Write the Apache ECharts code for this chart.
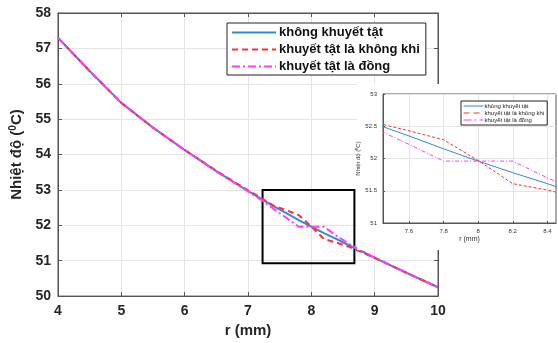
<!DOCTYPE html>
<html>
<head>
<meta charset="utf-8">
<script src="https://cdn.jsdelivr.net/npm/echarts@6/dist/echarts.min.js"></script>
<style>
  html, body { margin: 0; padding: 0; background: #fff; }
  #chart { width: 558px; height: 343px; }
</style>
</head>
<body>
<div id="chart"></div>
<script>
// r (mm) and temperature (°C)
const rValues = [4, 4.5, 5, 5.5, 6, 6.5, 7, 7.2, 7.4, 7.6, 7.8, 8, 8.2, 8.4, 8.6, 8.8, 9, 9.5, 10];
const tNoDefect = [57.30, 56.36, 55.46, 54.76, 54.13, 53.53, 52.97, 52.76, 52.54, 52.35, 52.15, 51.96, 51.78, 51.61, 51.43, 51.26, 51.08, 50.66, 50.25];
const tAirDefect = [57.30, 56.36, 55.46, 54.76, 54.13, 53.54, 52.99, 52.78, 52.56, 52.43, 52.29, 51.97, 51.61, 51.51, 51.39, 51.24, 51.08, 50.66, 50.25];
const tCopperDefect = [57.30, 56.36, 55.46, 54.76, 54.13, 53.52, 52.96, 52.73, 52.47, 52.22, 51.96, 51.96, 51.96, 51.70, 51.47, 51.28, 51.09, 50.66, 50.25];

const seriesNames = ['không khuyết tật', 'khuyết tật là không khi', 'khuyết tật là đồng'];
// zoom rectangle drawn on the main plot
const boxR = [7.23, 8.68];
const boxT = [50.93, 53.0];
// inset axes
const insetR = [7.45, 8.45];
const insetRTicks = [7.6, 7.8, 8, 8.2, 8.4];
const insetT = [51, 53];

const colors = ['#2f8ad8', '#ff3030', '#ff3cff'];
const dashes = ['solid', [6, 4], [8, 3, 2, 3]];
const allT = [tNoDefect, tAirDefect, tCopperDefect];

const font = 'Liberation Sans, Arial, sans-serif';
const axisGray = '#555';
const gridGray = '#e4e4e4';

function pairs(ts) {
  return rValues.map((r, i) => [r, ts[i]]);
}

const series = [];
allT.forEach((ts, i) => {
  series.push({
    name: seriesNames[i],
    type: 'line',
    xAxisIndex: 0,
    yAxisIndex: 0,
    symbol: 'none',
    z: 2,
    data: pairs(ts),
    lineStyle: { color: colors[i], width: 2, type: dashes[i] },
    itemStyle: { color: colors[i] }
  });
});
series[0].markArea = {
  silent: true,
  itemStyle: { color: 'rgba(0,0,0,0)', borderColor: '#000', borderWidth: 2 },
  data: [[{ coord: [boxR[0], boxT[1]] }, { coord: [boxR[1], boxT[0]] }]]
};
allT.forEach((ts, i) => {
  series.push({
    name: seriesNames[i],
    type: 'line',
    xAxisIndex: 2,
    yAxisIndex: 2,
    symbol: 'none',
    z: 12,
    clip: true,
    data: pairs(ts),
    lineStyle: { color: colors[i], width: 1, type: i === 1 ? [3, 2] : (i === 2 ? [4, 2, 1, 2] : 'solid') },
    itemStyle: { color: colors[i] }
  });
});

const chart = echarts.init(document.getElementById('chart'));
chart.setOption({
  animation: false,
  backgroundColor: '#fff',
  graphic: {
    elements: [{
      type: 'rect',
      z: 5,
      left: 357, top: 84,
      shape: { width: 201, height: 166 },
      style: { fill: '#fff' }
    }]
  },
  grid: [
    { left: 57, right: 120, top: 13, bottom: 46, show: true, borderColor: axisGray, borderWidth: 1, backgroundColor: '#fff' },
    { left: 383, right: 2, top: 94, bottom: 120, show: true, borderColor: axisGray, borderWidth: 1, backgroundColor: '#fff', z: 10 }
  ],
  legend: [
    {
      data: seriesNames,
      orient: 'vertical',
      left: 227, top: 23,
      padding: [3, 6, 2, 4],
      itemGap: 4,
      itemWidth: 44,
      itemHeight: 14,
      backgroundColor: '#fff',
      borderColor: '#222',
      borderWidth: 1,
      borderRadius: 0,
      z: 6,
      selectedMode: false,
      itemStyle: { opacity: 0 },
      textStyle: { fontFamily: font, fontSize: 13, fontWeight: 'bold', color: '#111', padding: [0, 0, 0, -2] }
    },
    {
      data: seriesNames,
      orient: 'vertical',
      left: 461, top: 101,
      padding: [2, 3, 2, 2],
      itemGap: 1,
      itemWidth: 20,
      itemHeight: 6,
      backgroundColor: '#fff',
      borderColor: '#222',
      borderWidth: 1,
      borderRadius: 0,
      z: 15,
      selectedMode: false,
      itemStyle: { opacity: 0 },
      lineStyle: { width: 1 },
      textStyle: { fontFamily: font, fontSize: 6, color: '#222', padding: [0, 0, 0, -4] }
    }
  ],
  xAxis: [
    {
      gridIndex: 0, type: 'value', min: 4, max: 10, interval: 1,
      name: 'r (mm)', nameLocation: 'middle', nameGap: 24,
      nameTextStyle: { fontFamily: font, fontSize: 15, fontWeight: 'bold', color: '#262626' },
      axisLine: { show: true, lineStyle: { color: axisGray } },
      axisTick: { show: true, inside: true, length: 4, lineStyle: { color: axisGray } },
      axisLabel: { fontFamily: font, fontSize: 14, fontWeight: 'bold', color: '#262626', margin: 8 },
      splitLine: { show: true, lineStyle: { color: gridGray } }
    },
    {
      gridIndex: 0, type: 'value', min: 4, max: 10, interval: 1, position: 'top',
      axisLine: { show: true, lineStyle: { color: axisGray } },
      axisTick: { show: true, inside: true, length: 4, lineStyle: { color: axisGray } },
      axisLabel: { show: false },
      splitLine: { show: false }
    },
    {
      gridIndex: 1, type: 'value', min: insetR[0], max: insetR[1], z: 10,
      name: 'r (mm)', nameLocation: 'middle', nameGap: 13,
      nameTextStyle: { fontFamily: font, fontSize: 7, color: '#333' },
      axisLine: { show: true, lineStyle: { color: axisGray } },
      axisTick: { show: true, inside: true, length: 2, customValues: insetRTicks, lineStyle: { color: axisGray } },
      axisLabel: { fontFamily: font, fontSize: 6, color: '#333', margin: 5, customValues: insetRTicks },
      splitLine: { show: true, lineStyle: { color: gridGray } }
    }
  ],
  yAxis: [
    {
      gridIndex: 0, type: 'value', min: 50, max: 58, interval: 1,
      name: '{a|Nhiệt độ (}{s|0}{a|C)}', nameLocation: 'middle', nameGap: 22,
      nameTextStyle: {
        rich: {
          a: { fontFamily: font, fontSize: 15, fontWeight: 'bold', color: '#262626' },
          s: { fontFamily: font, fontSize: 10, fontWeight: 'bold', color: '#262626', verticalAlign: 'top', padding: [0, 0, 8, 0] }
        }
      },
      axisLine: { show: true, lineStyle: { color: axisGray } },
      axisTick: { show: true, inside: true, length: 4, lineStyle: { color: axisGray } },
      axisLabel: { fontFamily: font, fontSize: 14, fontWeight: 'bold', color: '#262626', margin: 7 },
      splitLine: { show: true, lineStyle: { color: gridGray } }
    },
    {
      gridIndex: 0, type: 'value', min: 50, max: 58, interval: 1, position: 'right',
      axisLine: { show: true, lineStyle: { color: axisGray } },
      axisTick: { show: true, inside: true, length: 4, lineStyle: { color: axisGray } },
      axisLabel: { show: false },
      splitLine: { show: false }
    },
    {
      gridIndex: 1, type: 'value', min: insetT[0], max: insetT[1], interval: 0.5, z: 10,
      name: 'Nhiệt độ (⁰C)', nameLocation: 'middle', nameGap: 14,
      nameTextStyle: { fontFamily: font, fontSize: 6, color: '#333' },
      axisLine: { show: true, lineStyle: { color: axisGray } },
      axisTick: { show: true, inside: true, length: 2, lineStyle: { color: axisGray } },
      axisLabel: { fontFamily: font, fontSize: 6, color: '#333', margin: 6 },
      splitLine: { show: true, lineStyle: { color: gridGray } }
    }
  ],
  series: series
});
</script>
</body>
</html>
